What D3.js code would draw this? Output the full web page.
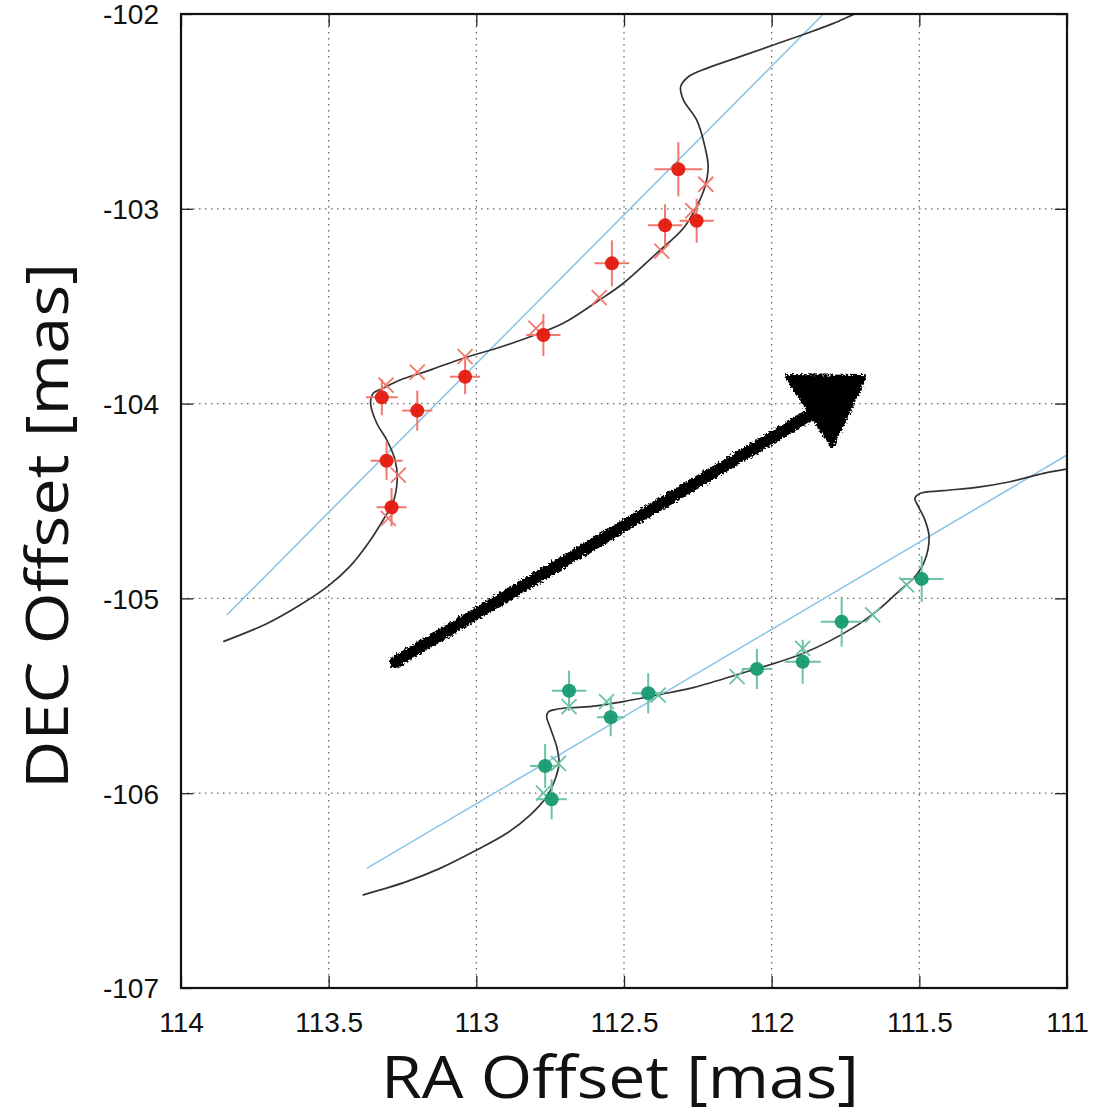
<!DOCTYPE html>
<html>
<head>
<meta charset="utf-8">
<script src="https://cdn.jsdelivr.net/npm/d3@7"></script>
<style>
  html, body { margin: 0; padding: 0; background: #fff; }
  svg { display: block; }
</style>
</head>
<body>
<svg id="chart" width="1096" height="1114"></svg>
<script>
// ---------- Data (RA offset [mas], DEC offset [mas]) ----------
const xTicks = [114, 113.5, 113, 112.5, 112, 111.5, 111];
const yTicks = [-102, -103, -104, -105, -106, -107];

// Red source: observed positions with errors
const redRA     = [112.316, 112.254, 112.361, 112.541, 112.773, 113.038, 113.320, 113.200, 113.304, 113.287];
const redDEC    = [-102.797, -103.061, -103.085, -103.280, -103.648, -103.862, -103.968, -104.036, -104.293, -104.532];
const redErrRA  = [0.081, 0.058, 0.058, 0.059, 0.058, 0.051, 0.054, 0.051, 0.054, 0.051];
const redErrDEC = [0.139, 0.113, 0.108, 0.118, 0.108, 0.090, 0.092, 0.103, 0.098, 0.098];
// Red source: model positions (crosses)
const redModelRA  = [112.223, 112.267, 112.372, 112.584, 112.798, 113.038, 113.200, 113.306, 113.264, 113.298];
const redModelDEC = [-102.874, -103.010, -103.217, -103.456, -103.614, -103.759, -103.839, -103.905, -104.367, -104.589];
// Red source: fitted trajectory (parallax + proper motion)
const redCurveRA  = [113.857, 113.710, 113.597, 113.501, 113.428, 113.362, 113.309, 113.283, 113.268, 113.275,
                     113.303, 113.337, 113.358, 113.349, 113.315, 113.258, 113.157, 113.044, 112.931, 112.818,
                     112.706, 112.592, 112.502, 112.389, 112.299, 112.254, 112.226, 112.215, 112.226, 112.254,
                     112.299, 112.308, 112.282, 112.220, 112.107, 111.994, 111.881, 111.791, 111.718, 111.68];
const redCurveDEC = [-105.222, -105.130, -105.034, -104.936, -104.836, -104.708, -104.581, -104.512, -104.392, -104.290,
                     -104.187, -104.101, -103.998, -103.947, -103.921, -103.879, -103.828, -103.767, -103.716, -103.657,
                     -103.588, -103.477, -103.382, -103.228, -103.100, -102.989, -102.887, -102.784, -102.681, -102.544,
                     -102.441, -102.373, -102.322, -102.279, -102.219, -102.159, -102.099, -102.048, -102.000, -101.98];
// Red source: proper-motion line
const redLineRA  = [113.845, 111.825];
const redLineDEC = [-105.085, -102.000];

// Green source: observed positions with errors
const greenRA     = [112.686, 112.545, 112.418, 112.050, 111.895, 111.763, 111.492, 112.767, 112.745];
const greenDEC    = [-105.474, -105.610, -105.487, -105.362, -105.325, -105.120, -104.900, -105.860, -106.031];
const greenErrRA  = [0.058, 0.047, 0.054, 0.051, 0.061, 0.071, 0.074, 0.051, 0.051];
const greenErrDEC = [0.103, 0.098, 0.103, 0.103, 0.113, 0.128, 0.118, 0.113, 0.103];
// Green source: model positions (crosses)
const greenModelRA  = [112.686, 112.559, 112.384, 112.117, 111.895, 111.658, 111.543, 112.722, 112.773];
const greenModelDEC = [-105.556, -105.530, -105.496, -105.402, -105.256, -105.085, -104.931, -105.847, -106.000];
// Green source: fitted trajectory
const greenCurveRA  = [113.385, 113.236, 113.123, 112.999, 112.897, 112.818, 112.762, 112.734, 112.720, 112.728,
                       112.751, 112.762, 112.756, 112.728, 112.683, 112.615, 112.502, 112.389, 112.276, 112.121,
                       111.893, 111.718, 111.633, 111.565, 111.515, 111.481, 111.467, 111.481, 111.503, 111.515,
                       111.498, 111.419, 111.306, 111.193, 111.080, 111.003];
const greenCurveDEC = [-106.523, -106.454, -106.386, -106.292, -106.206, -106.112, -106.018, -105.932, -105.847, -105.761,
                       -105.659, -105.607, -105.582, -105.569, -105.561, -105.556, -105.530, -105.496, -105.462, -105.393,
                       -105.282, -105.145, -105.051, -104.957, -104.889, -104.803, -104.683, -104.598, -104.529, -104.486,
                       -104.461, -104.447, -104.430, -104.401, -104.358, -104.336];
// Green source: proper-motion line
const greenLineRA  = [113.371, 111.000];
const greenLineDEC = [-106.386, -104.264];

// Hand-drawn arrow annotation (direction of motion)
const arrowShaftRA  = [113.275, 111.853];
const arrowShaftDEC = [-105.327, -104.043];
const arrowHeadRA   = [111.945, 111.691, 111.796];
const arrowHeadDEC  = [-103.863, -103.869, -104.207];

// ---------- Layout ----------
const svg = d3.select("#chart");
const L = 181, R = 1067, T = 14, B = 988;
const x = d3.scaleLinear().domain([114, 111]).range([L, R]);
const y = d3.scaleLinear().domain([-107, -102]).range([B, T]);

const RED = "#e31a0e", RED_LIGHT = "#f0786c";
const GREEN = "#179a72", GREEN_LIGHT = "#6cc3a0";
const BLUE = "#8cc6e6";

const defs = svg.append("defs");
defs.append("clipPath").attr("id", "plotClip")
  .append("rect").attr("x", L).attr("y", T).attr("width", R - L).attr("height", B - T);
const rough = defs.append("filter").attr("id", "rough")
  .attr("x", "-10%").attr("y", "-10%").attr("width", "120%").attr("height", "120%");
rough.append("feTurbulence").attr("type", "fractalNoise").attr("baseFrequency", 0.45)
  .attr("numOctaves", 2).attr("seed", 3).attr("result", "noise");
rough.append("feDisplacementMap").attr("in", "SourceGraphic").attr("in2", "noise")
  .attr("scale", 7).attr("xChannelSelector", "R").attr("yChannelSelector", "G");

// ---------- Grid ----------
const grid = svg.append("g");
grid.selectAll("line.gx").data(xTicks.slice(1, -1)).enter().append("line")
  .attr("x1", d => x(d)).attr("x2", d => x(d)).attr("y1", T).attr("y2", B)
  .attr("stroke", "#666").attr("stroke-width", 1.3).attr("stroke-dasharray", "1.5,4.5");
grid.selectAll("line.gy").data(yTicks.slice(1, -1)).enter().append("line")
  .attr("y1", d => y(d)).attr("y2", d => y(d)).attr("x1", L).attr("x2", R)
  .attr("stroke", "#666").attr("stroke-width", 1.3).attr("stroke-dasharray", "1.5,4.5");

// ---------- Axes (ticks pointing inward, mirrored) ----------
const tickFont = "'Liberation Sans Narrow', 'Liberation Sans', Arial, sans-serif";
const axB = svg.append("g").attr("transform", `translate(0,${B})`)
  .call(d3.axisBottom(x).tickValues(xTicks).tickSize(-12).tickPadding(24).tickFormat(d => d));
const axT = svg.append("g").attr("transform", `translate(0,${T})`)
  .call(d3.axisTop(x).tickValues(xTicks).tickSize(-12).tickFormat(""));
const axL = svg.append("g").attr("transform", `translate(${L},0)`)
  .call(d3.axisLeft(y).tickValues(yTicks).tickSize(-12).tickPadding(22).tickFormat(d => d));
const axR = svg.append("g").attr("transform", `translate(${R},0)`)
  .call(d3.axisRight(y).tickValues(yTicks).tickSize(-12).tickFormat(""));
[axB, axT, axL, axR].forEach(a => {
  a.select(".domain").remove();
  a.selectAll(".tick line").attr("stroke", "#222").attr("stroke-width", 1.3);
  a.selectAll("text").attr("font-family", tickFont).attr("font-size", 28).attr("fill", "#111");
});
axB.selectAll("text").attr("dy", "0.71em");
axL.selectAll("text").attr("dy", "0.35em");

// ---------- Plot content ----------
const plot = svg.append("g").attr("clip-path", "url(#plotClip)");
const line = d3.line().x(d => x(d[0])).y(d => y(d[1]));
const smooth = d3.line().x(d => x(d[0])).y(d => y(d[1])).curve(d3.curveCatmullRom.alpha(0.5));

function drawGroup(lineRA, lineDEC, curveRA, curveDEC, ra, dec, eRA, eDEC, mRA, mDEC, col, colLight) {
  plot.append("path").datum(d3.zip(lineRA, lineDEC)).attr("d", line)
    .attr("fill", "none").attr("stroke", BLUE).attr("stroke-width", 1.6);
  plot.append("path").datum(d3.zip(curveRA, curveDEC)).attr("d", smooth)
    .attr("fill", "none").attr("stroke", "#333").attr("stroke-width", 1.7);
  const pts = d3.range(ra.length).map(i => ({ra: ra[i], dec: dec[i], er: eRA[i], ed: eDEC[i]}));
  const g = plot.append("g");
  g.selectAll("line.eh").data(pts).enter().append("line")
    .attr("x1", d => x(d.ra + d.er)).attr("x2", d => x(d.ra - d.er))
    .attr("y1", d => y(d.dec)).attr("y2", d => y(d.dec))
    .attr("stroke", colLight).attr("stroke-width", 2);
  g.selectAll("line.ev").data(pts).enter().append("line")
    .attr("x1", d => x(d.ra)).attr("x2", d => x(d.ra))
    .attr("y1", d => y(d.dec + d.ed)).attr("y2", d => y(d.dec - d.ed))
    .attr("stroke", colLight).attr("stroke-width", 2);
  const models = d3.zip(mRA, mDEC);
  const s = 7.5;
  g.selectAll("path.m").data(models).enter().append("path")
    .attr("d", d => {
      const cx = x(d[0]), cy = y(d[1]);
      return `M${cx - s},${cy - s}L${cx + s},${cy + s}M${cx - s},${cy + s}L${cx + s},${cy - s}`;
    })
    .attr("stroke", colLight).attr("stroke-width", 1.8).attr("fill", "none");
  g.selectAll("circle").data(pts).enter().append("circle")
    .attr("cx", d => x(d.ra)).attr("cy", d => y(d.dec)).attr("r", 7)
    .attr("fill", col).attr("fill-opacity", 0.95);
}

drawGroup(redLineRA, redLineDEC, redCurveRA, redCurveDEC, redRA, redDEC, redErrRA, redErrDEC,
          redModelRA, redModelDEC, RED, RED_LIGHT);
drawGroup(greenLineRA, greenLineDEC, greenCurveRA, greenCurveDEC, greenRA, greenDEC, greenErrRA, greenErrDEC,
          greenModelRA, greenModelDEC, GREEN, GREEN_LIGHT);

// Arrow (hand-drawn look)
const arrow = plot.append("g").attr("filter", "url(#rough)");
arrow.append("path").datum(d3.zip(arrowShaftRA, arrowShaftDEC)).attr("d", line)
  .attr("stroke", "#000").attr("stroke-width", 12).attr("fill", "none").attr("stroke-linecap", "round");
arrow.append("path").datum(d3.zip(arrowHeadRA, arrowHeadDEC))
  .attr("d", d => line(d) + "Z").attr("fill", "#000").attr("stroke", "#000")
  .attr("stroke-width", 6).attr("stroke-linejoin", "round");

// Frame
svg.append("rect").attr("x", L).attr("y", T).attr("width", R - L).attr("height", B - T)
  .attr("fill", "none").attr("stroke", "#111").attr("stroke-width", 2.2);

// Axis titles
const titleFont = "'Open Sans', 'Noto Sans', sans-serif";
svg.append("text").attr("x", 620).attr("y", 1098).attr("text-anchor", "middle")
  .attr("font-family", titleFont).attr("font-size", 58).attr("fill", "#111")
  .attr("textLength", 478).attr("lengthAdjust", "spacingAndGlyphs")
  .text("RA Offset [mas]");
svg.append("text").attr("transform", "translate(68,526) rotate(-90)").attr("text-anchor", "middle")
  .attr("font-family", titleFont).attr("font-size", 58).attr("fill", "#111")
  .attr("textLength", 526).attr("lengthAdjust", "spacingAndGlyphs")
  .text("DEC Offset [mas]");
</script>
</body>
</html>
